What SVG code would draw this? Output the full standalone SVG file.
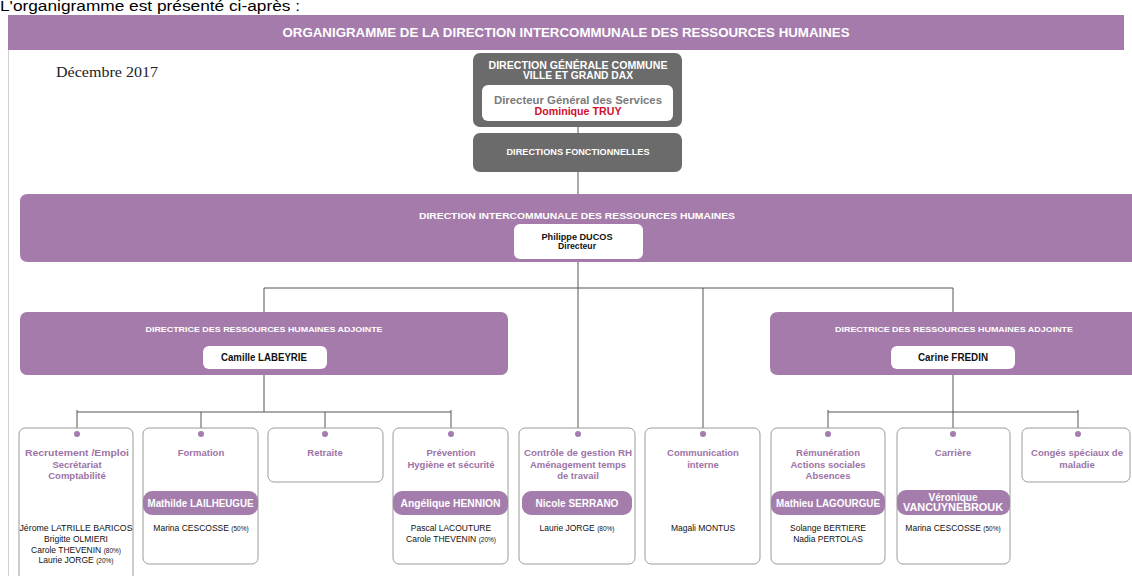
<svg xmlns="http://www.w3.org/2000/svg" width="1132" height="576" viewBox="0 0 1132 576">
<style>
text{font-family:"Liberation Sans",Arial,sans-serif}
.wt{fill:#fff;font-weight:bold}
.bk{fill:#111;font-weight:bold}
.pt{fill:#9d73a6;font-weight:bold;font-size:9.5px}
.nm{fill:#111;font-size:8.5px}
.pc{font-size:6.5px}
.pill{fill:#a57dad}
.pl{fill:#fff;font-weight:bold;font-size:10px}
.box{fill:#fff;stroke:#9a9a9a;stroke-width:1}
.pur{fill:#a57bab}
.gray{fill:#6b6b6b}
.dot{fill:#a47cae}
.conn line{stroke:#555;stroke-width:1}
</style>
<rect width="1132" height="576" fill="#fff"/>
<text x="0" y="11" font-size="14" fill="#000" textLength="300" lengthAdjust="spacingAndGlyphs">L'organigramme est présenté ci-après :</text>
<g id="frame">
<line x1="8.5" y1="50" x2="8.5" y2="576" stroke="#d0d0d0" stroke-width="1"/>
<rect x="8" y="15" width="1116" height="35" class="pur"/>
<text x="566" y="37" text-anchor="middle" class="wt" font-size="12" textLength="567" lengthAdjust="spacingAndGlyphs">ORGANIGRAMME DE LA DIRECTION INTERCOMMUNALE DES RESSOURCES HUMAINES</text>
<text x="56" y="77" font-size="15" fill="#222" textLength="102" lengthAdjust="spacingAndGlyphs" style="font-family:'Liberation Serif',serif">Décembre 2017</text>
</g>
<g class="conn" id="connectors">
<line x1="578" y1="121" x2="578" y2="133"/>
<line x1="578" y1="172" x2="578" y2="194"/>
<line x1="578" y1="262" x2="578" y2="428"/>
<line x1="264" y1="288" x2="953" y2="288"/>
<line x1="264" y1="288" x2="264" y2="312"/>
<line x1="953" y1="288" x2="953" y2="312"/>
<line x1="703" y1="288" x2="703" y2="428"/>
<line x1="264" y1="375" x2="264" y2="412"/>
<line x1="77" y1="412" x2="451" y2="412"/>
<line x1="77" y1="410" x2="77" y2="428"/>
<line x1="201" y1="412" x2="201" y2="428"/>
<line x1="325" y1="412" x2="325" y2="428"/>
<line x1="451" y1="410" x2="451" y2="428"/>
<line x1="953" y1="375" x2="953" y2="412"/>
<line x1="828" y1="412" x2="1078" y2="412"/>
<line x1="828" y1="410" x2="828" y2="428"/>
<line x1="953" y1="412" x2="953" y2="428"/>
<line x1="1078" y1="410" x2="1078" y2="428"/>
</g>
<g id="dg">
<rect x="473" y="53" width="209" height="74" rx="7" class="gray"/>
<text x="578" y="68.5" text-anchor="middle" class="wt" font-size="10" textLength="179" lengthAdjust="spacingAndGlyphs">DIRECTION GÉNÉRALE COMMUNE</text>
<text x="578" y="79" text-anchor="middle" class="wt" font-size="10" textLength="110" lengthAdjust="spacingAndGlyphs">VILLE ET GRAND DAX</text>
<rect x="482" y="85" width="191" height="36" rx="6" fill="#fff"/>
<text x="578" y="104" text-anchor="middle" font-size="11" font-weight="bold" fill="#7a7a7a" textLength="168" lengthAdjust="spacingAndGlyphs">Directeur Général des Services</text>
<text x="578" y="115" text-anchor="middle" font-size="11" font-weight="bold" fill="#d0102a" textLength="87" lengthAdjust="spacingAndGlyphs">Dominique TRUY</text>
</g>
<g id="df">
<rect x="473" y="133" width="209" height="39" rx="7" class="gray"/>
<text x="578" y="155" text-anchor="middle" class="wt" font-size="9.5" textLength="143" lengthAdjust="spacingAndGlyphs">DIRECTIONS FONCTIONNELLES</text>
</g>
<g id="dirh">
<path d="M28,194 H1132 V262 H28 Q20,262 20,254 V202 Q20,194 28,194 Z" class="pur"/>
<text x="577" y="219" text-anchor="middle" class="wt" font-size="9.5" textLength="316" lengthAdjust="spacingAndGlyphs">DIRECTION INTERCOMMUNALE DES RESSOURCES HUMAINES</text>
<rect x="514" y="224" width="129" height="35" rx="6" fill="#fff"/>
<text x="577" y="240" text-anchor="middle" class="bk" font-size="9" textLength="71" lengthAdjust="spacingAndGlyphs">Philippe DUCOS</text>
<text x="577" y="249" text-anchor="middle" class="bk" font-size="9" textLength="38" lengthAdjust="spacingAndGlyphs">Directeur</text>
</g>
<g id="adj1">
<rect x="20" y="312" width="488" height="63" rx="7" class="pur"/>
<text x="264" y="332" text-anchor="middle" class="wt" font-size="8" textLength="237" lengthAdjust="spacingAndGlyphs">DIRECTRICE DES RESSOURCES HUMAINES ADJOINTE</text>
<rect x="203" y="346" width="124" height="23" rx="6" fill="#fff"/>
<text x="264" y="361" text-anchor="middle" class="bk" font-size="10" textLength="86" lengthAdjust="spacingAndGlyphs">Camille LABEYRIE</text>
</g>
<g id="adj2">
<path d="M778,312 H1132 V375 H778 Q770,375 770,367 V320 Q770,312 778,312 Z" class="pur"/>
<text x="954" y="332" text-anchor="middle" class="wt" font-size="8" textLength="238" lengthAdjust="spacingAndGlyphs">DIRECTRICE DES RESSOURCES HUMAINES ADJOINTE</text>
<rect x="891" y="346" width="124" height="23" rx="6" fill="#fff"/>
<text x="953" y="361" text-anchor="middle" class="bk" font-size="10" textLength="70" lengthAdjust="spacingAndGlyphs">Carine FREDIN</text>
</g>
<g id="recrutement">
<rect x="19" y="428" width="114" height="162" rx="6" class="box"/>
<circle cx="77" cy="434" r="3" class="dot"/>
<text x="77" y="456" text-anchor="middle" class="pt" textLength="104" lengthAdjust="spacingAndGlyphs">Recrutement /Emploi</text>
<text x="77" y="468" text-anchor="middle" class="pt">Secrétariat</text>
<text x="77" y="479" text-anchor="middle" class="pt">Comptabilité</text>
<text x="76" y="531" text-anchor="middle" class="nm" textLength="113" lengthAdjust="spacingAndGlyphs">Jérome LATRILLE BARICOS</text>
<text x="76" y="542" text-anchor="middle" class="nm">Brigitte OLMIERI</text>
<text x="76" y="552.5" text-anchor="middle" class="nm">Carole THEVENIN <tspan class="pc">(80%)</tspan></text>
<text x="76" y="563" text-anchor="middle" class="nm">Laurie JORGE <tspan class="pc">(20%)</tspan></text>
</g>
<g id="formation">
<rect x="143" y="428" width="115" height="136" rx="6" class="box"/>
<circle cx="201" cy="434" r="3" class="dot"/>
<text x="201" y="456" text-anchor="middle" class="pt">Formation</text>
<rect x="143" y="491" width="115" height="24" rx="9" class="pill"/>
<text x="200.5" y="506.5" text-anchor="middle" class="pl" textLength="106" lengthAdjust="spacingAndGlyphs">Mathilde LAILHEUGUE</text>
<text x="201" y="531" text-anchor="middle" class="nm">Marina CESCOSSE <tspan class="pc">(50%)</tspan></text>
</g>
<g id="retraite">
<rect x="268" y="428" width="115" height="54" rx="6" class="box"/>
<circle cx="325" cy="434" r="3" class="dot"/>
<text x="325" y="456" text-anchor="middle" class="pt">Retraite</text>
</g>
<g id="prevention">
<rect x="393" y="428" width="115" height="136" rx="6" class="box"/>
<circle cx="451" cy="434" r="3" class="dot"/>
<text x="451" y="456" text-anchor="middle" class="pt">Prévention</text>
<text x="451" y="468" text-anchor="middle" class="pt">Hygiène et sécurité</text>
<rect x="393" y="491" width="115" height="24" rx="9" class="pill"/>
<text x="450.5" y="506.5" text-anchor="middle" class="pl" textLength="100" lengthAdjust="spacingAndGlyphs">Angélique HENNION</text>
<text x="451" y="531" text-anchor="middle" class="nm">Pascal LACOUTURE</text>
<text x="451" y="542" text-anchor="middle" class="nm">Carole THEVENIN <tspan class="pc">(20%)</tspan></text>
</g>
<g id="controle">
<rect x="519" y="428" width="116" height="136" rx="6" class="box"/>
<circle cx="578" cy="434" r="3" class="dot"/>
<text x="578" y="456" text-anchor="middle" class="pt" textLength="108" lengthAdjust="spacingAndGlyphs">Contrôle de gestion RH</text>
<text x="578" y="468" text-anchor="middle" class="pt">Aménagement temps</text>
<text x="578" y="479" text-anchor="middle" class="pt">de travail</text>
<rect x="522" y="491" width="110" height="24" rx="9" class="pill"/>
<text x="577" y="506.5" text-anchor="middle" class="pl">Nicole SERRANO</text>
<text x="577" y="531" text-anchor="middle" class="nm">Laurie JORGE <tspan class="pc">(80%)</tspan></text>
</g>
<g id="communication">
<rect x="645" y="428" width="115" height="136" rx="6" class="box"/>
<circle cx="703" cy="434" r="3" class="dot"/>
<text x="703" y="456" text-anchor="middle" class="pt">Communication</text>
<text x="703" y="468" text-anchor="middle" class="pt">interne</text>
<text x="703" y="531" text-anchor="middle" class="nm">Magali MONTUS</text>
</g>
<g id="remuneration">
<rect x="771" y="428" width="114" height="136" rx="6" class="box"/>
<circle cx="828" cy="434" r="3" class="dot"/>
<text x="828" y="456" text-anchor="middle" class="pt">Rémunération</text>
<text x="828" y="468" text-anchor="middle" class="pt">Actions sociales</text>
<text x="828" y="479" text-anchor="middle" class="pt">Absences</text>
<rect x="771" y="491" width="114" height="24" rx="9" class="pill"/>
<text x="828" y="506.5" text-anchor="middle" class="pl" textLength="104" lengthAdjust="spacingAndGlyphs">Mathieu LAGOURGUE</text>
<text x="828" y="531" text-anchor="middle" class="nm">Solange BERTIERE</text>
<text x="828" y="542" text-anchor="middle" class="nm">Nadia PERTOLAS</text>
</g>
<g id="carriere">
<rect x="897" y="428" width="113" height="136" rx="6" class="box"/>
<circle cx="953" cy="434" r="3" class="dot"/>
<text x="953" y="456" text-anchor="middle" class="pt">Carrière</text>
<rect x="897" y="490" width="113" height="25" rx="9" class="pill"/>
<text x="953" y="500.5" text-anchor="middle" class="pl">Véronique</text>
<text x="953" y="511" text-anchor="middle" class="pl" textLength="100" lengthAdjust="spacingAndGlyphs">VANCUYNEBROUK</text>
<text x="953" y="531" text-anchor="middle" class="nm">Marina CESCOSSE <tspan class="pc">(50%)</tspan></text>
</g>
<g id="conges">
<rect x="1022" y="428" width="108" height="54" rx="6" class="box"/>
<circle cx="1078" cy="434" r="3" class="dot"/>
<text x="1077" y="456" text-anchor="middle" class="pt">Congés spéciaux de</text>
<text x="1077" y="468" text-anchor="middle" class="pt">maladie</text>
</g>
</svg>
